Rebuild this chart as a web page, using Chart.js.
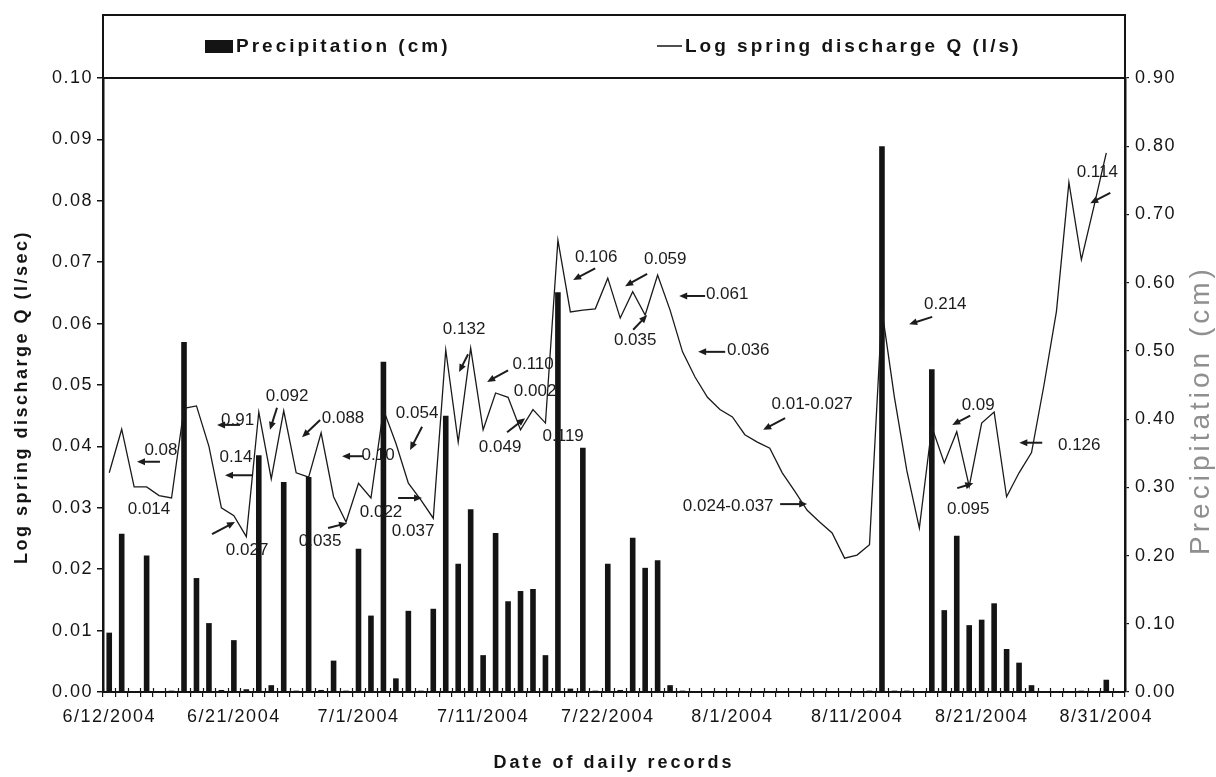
<!DOCTYPE html>
<html>
<head>
<meta charset="utf-8">
<script src="https://cdn.jsdelivr.net/npm/chart.js@4.4.1/dist/chart.umd.min.js"></script>
<style>
  body { margin: 0; background: #fff; }
  #wrap { width: 1216px; height: 777px; }
</style>
</head>
<body>
<div id="wrap"><canvas id="chart" width="1216" height="777"></canvas></div>
<script>
// daily records (one day repeated in June, 7/16 missing, as in the source sheet)
const dates = [
  "6/12/2004", "6/13/2004", "6/14/2004", "6/15/2004", "6/16/2004", "6/17/2004", "6/18/2004", "6/19/2004", "6/20/2004", "6/20/2004",
  "6/21/2004", "6/22/2004", "6/23/2004", "6/24/2004", "6/25/2004", "6/26/2004", "6/27/2004", "6/28/2004", "6/29/2004", "6/30/2004",
  "7/1/2004", "7/2/2004", "7/3/2004", "7/4/2004", "7/5/2004", "7/6/2004", "7/7/2004", "7/8/2004", "7/9/2004", "7/10/2004",
  "7/11/2004", "7/12/2004", "7/13/2004", "7/14/2004", "7/15/2004", "7/17/2004", "7/18/2004", "7/19/2004", "7/20/2004", "7/21/2004",
  "7/22/2004", "7/23/2004", "7/24/2004", "7/25/2004", "7/26/2004", "7/27/2004", "7/28/2004", "7/29/2004", "7/30/2004", "7/31/2004",
  "8/1/2004", "8/2/2004", "8/3/2004", "8/4/2004", "8/5/2004", "8/6/2004", "8/7/2004", "8/8/2004", "8/9/2004", "8/10/2004",
  "8/11/2004", "8/12/2004", "8/13/2004", "8/14/2004", "8/15/2004", "8/16/2004", "8/17/2004", "8/18/2004", "8/19/2004", "8/20/2004",
  "8/21/2004", "8/22/2004", "8/23/2004", "8/24/2004", "8/25/2004", "8/26/2004", "8/27/2004", "8/28/2004", "8/29/2004", "8/30/2004",
  "8/31/2004", "9/1/2004"
];
const shownDates = ["6/12/2004", "6/21/2004", "7/1/2004", "7/11/2004", "7/22/2004", "8/1/2004", "8/11/2004", "8/21/2004", "8/31/2004"];

// precipitation, cm (right axis)
const precipitation = [
  0.087, 0.232, 0, 0.20, 0, 0.002, 0.513, 0.167, 0.101, 0.003,
  0.076, 0.004, 0.347, 0.01, 0.308, 0.002, 0.315, 0.003, 0.046, 0.002,
  0.21, 0.112, 0.484, 0.02, 0.119, 0.002, 0.122, 0.405, 0.188, 0.268,
  0.054, 0.233, 0.133, 0.148, 0.151, 0.054, 0.586, 0.005, 0.358, 0.002,
  0.188, 0.003, 0.226, 0.182, 0.193, 0.01, 0.002, 0, 0, 0.001,
  0, 0, 0, 0.001, 0, 0, 0, 0, 0, 0,
  0.001, 0.002, 0.80, 0.002, 0.002, 0.001, 0.473, 0.12, 0.229, 0.098,
  0.106, 0.13, 0.063, 0.043, 0.01, 0.001, 0, 0, 0.002, 0.001,
  0.018, 0
];

// log spring discharge Q, l/sec (left axis)
const discharge = [
  0.0357, 0.0428, 0.0334, 0.0334, 0.0320, 0.0316, 0.0462, 0.0466, 0.0400, 0.0300,
  0.0287, 0.0253, 0.0456, 0.0347, 0.0458, 0.0357, 0.0350, 0.0422, 0.0318, 0.0277,
  0.0340, 0.0316, 0.0460, 0.0405, 0.0340, 0.0313, 0.0283, 0.0557, 0.0407, 0.0560,
  0.0427, 0.0487, 0.0480, 0.0427, 0.0460, 0.0438, 0.0736, 0.0619, 0.0622, 0.0624,
  0.0674, 0.0609, 0.0652, 0.0614, 0.0679, 0.0622, 0.0554, 0.0513, 0.0480, 0.0460,
  0.0448, 0.0419, 0.0407, 0.0397, 0.0357, 0.0327, 0.0296, 0.0277, 0.0259, 0.0218,
  0.0223, 0.0240, 0.0622, 0.0480, 0.0360, 0.0267, 0.0432, 0.0373, 0.0424, 0.0335,
  0.0438, 0.0456, 0.0318, 0.0357, 0.0390, 0.0500, 0.0620, 0.0830, 0.0704, 0.0790,
  0.0878, null
];

// callouts: text centre and arrow, in (day index, left-axis value)
const notes = [
  { text: "0.08", at: [4.15, 0.0394], from: [4.07, 0.0375], to: [2.23, 0.0375] },
  { text: "0.014", at: [3.19, 0.0298] },
  { text: "0.91", at: [10.3, 0.0443], from: [10.5, 0.0435], to: [8.65, 0.0435] },
  { text: "0.14", at: [10.17, 0.0383], from: [11.54, 0.0353], to: [9.29, 0.0353] },
  { text: "0.027", at: [11.06, 0.0230], from: [8.25, 0.0257], to: [10.09, 0.0277] },
  { text: "0.092", at: [14.27, 0.0482], from: [13.46, 0.0463], to: [12.9, 0.0427] },
  { text: "0.088", at: [18.76, 0.0446], from: [16.92, 0.0443], to: [15.47, 0.0415] },
  { text: "0.035", at: [16.92, 0.0246], from: [17.56, 0.0267], to: [19.08, 0.0275] },
  { text: "0.10", at: [21.57, 0.0386], from: [20.37, 0.0384], to: [18.68, 0.0384] },
  { text: "0.022", at: [21.81, 0.0293] },
  { text: "0.054", at: [24.7, 0.0454], from: [25.1, 0.0432], to: [24.14, 0.0394] },
  { text: "0.037", at: [24.38, 0.0261], from: [23.18, 0.0316], to: [25.1, 0.0316] },
  { text: "0.132", at: [28.47, 0.0590], from: [28.79, 0.0550], to: [28.07, 0.0521] },
  { text: "0.110", at: [34.01, 0.0534], from: [32.0, 0.0524], to: [30.32, 0.0505] },
  { text: "0.002", at: [34.17, 0.0489] },
  { text: "0.049", at: [31.36, 0.0399], from: [31.92, 0.0423], to: [33.37, 0.0446] },
  { text: "0.119", at: [36.42, 0.0417] },
  { text: "0.106", at: [39.07, 0.0708], from: [38.99, 0.0690], to: [37.22, 0.0671] },
  { text: "0.059", at: [44.61, 0.0704], from: [43.16, 0.0681], to: [41.39, 0.0661] },
  { text: "0.035", at: [42.2, 0.0572], from: [42.04, 0.0590], to: [43.16, 0.0614] },
  { text: "0.061", at: [49.58, 0.0647], from: [47.81, 0.0645], to: [45.73, 0.0645] },
  { text: "0.036", at: [51.27, 0.0557], from: [49.42, 0.0554], to: [47.25, 0.0554] },
  { text: "0.01-0.027", at: [56.4, 0.0469], from: [54.23, 0.0446], to: [52.47, 0.0427] },
  { text: "0.024-0.037", at: [49.66, 0.0303], from: [53.83, 0.0306], to: [56.0, 0.0306] },
  { text: "0.214", at: [67.08, 0.0632], from: [66.03, 0.0611], to: [64.18, 0.0599] },
  { text: "0.09", at: [69.72, 0.0467], from: [69.08, 0.0450], to: [67.64, 0.0435] },
  { text: "0.095", at: [68.92, 0.0298], from: [68.04, 0.0332], to: [69.33, 0.0340] },
  { text: "0.126", at: [77.83, 0.0401], from: [74.86, 0.0406], to: [73.02, 0.0406] },
  { text: "0.114", at: [79.28, 0.0847], from: [80.32, 0.0813], to: [78.71, 0.0796] }
];

const FONT = "'Liberation Sans', Arial, sans-serif";
const INK = "#141414";

function arrow(ctx, x1, y1, x2, y2) {
  const a = Math.atan2(y2 - y1, x2 - x1);
  const L = 8, W = 3.5;
  ctx.beginPath();
  ctx.moveTo(x1, y1);
  ctx.lineTo(x2 - 5 * Math.cos(a), y2 - 5 * Math.sin(a));
  ctx.stroke();
  ctx.beginPath();
  ctx.moveTo(x2, y2);
  ctx.lineTo(x2 - L * Math.cos(a) + W * Math.sin(a), y2 - L * Math.sin(a) - W * Math.cos(a));
  ctx.lineTo(x2 - L * Math.cos(a) - W * Math.sin(a), y2 - L * Math.sin(a) + W * Math.cos(a));
  ctx.closePath();
  ctx.fill();
}

const decorations = {
  id: "decorations",
  beforeDraw(chart) {
    chart.ctx.letterSpacing = "1.5px";
  },
  afterDraw(chart) {
    const { ctx, chartArea: area, scales } = chart;
    const xs = scales.x, ys = scales.y;
    ctx.save();

    // legend box above the plot
    ctx.strokeStyle = INK;
    ctx.lineWidth = 2;
    ctx.strokeRect(area.left, 15, area.right - area.left, area.top - 15);
    const bars = chart.data.datasets[1], line = chart.data.datasets[0];
    ctx.fillStyle = INK;
    ctx.fillRect(205, 40, 28, 13);
    ctx.beginPath();
    ctx.lineWidth = 1.5;
    ctx.moveTo(657, 46);
    ctx.lineTo(682, 46);
    ctx.stroke();
    ctx.font = "bold 19px " + FONT;
    ctx.letterSpacing = "3px";
    ctx.textBaseline = "middle";
    ctx.textAlign = "left";
    ctx.fillText(bars.label, 236, 47);
    ctx.fillText(line.label, 685, 47);

    // small tick marks crossing into the plot along the date axis
    ctx.lineWidth = 1.2;
    ctx.beginPath();
    for (let i = 0; i <= dates.length; i++) {
      const x = Math.round(xs.getPixelForValue(i - 0.5)) + 0.5;
      ctx.moveTo(x, area.bottom);
      ctx.lineTo(x, area.bottom - 4);
    }
    ctx.stroke();

    // axis titles
    ctx.textAlign = "center";
    ctx.font = "bold 18px " + FONT;
    ctx.letterSpacing = "3px";
    ctx.fillText("Date of daily records", (area.left + area.right) / 2, 763);

    ctx.save();
    ctx.translate(22, (area.top + area.bottom) / 2 + 12);
    ctx.rotate(-Math.PI / 2);
    ctx.letterSpacing = "2.5px";
    ctx.fillText("Log spring discharge Q (l/sec)", 0, 0);
    ctx.restore();

    ctx.save();
    ctx.translate(1201, 410);
    ctx.rotate(-Math.PI / 2);
    ctx.fillStyle = "#8f8f8f";
    ctx.font = "28px " + FONT;
    ctx.letterSpacing = "4px";
    ctx.fillText("Precipitation (cm)", 0, 0);
    ctx.restore();

    // callouts
    ctx.font = "17px " + FONT;
    ctx.letterSpacing = "0px";
    ctx.fillStyle = "#1c1c1c";
    ctx.strokeStyle = "#1c1c1c";
    ctx.lineWidth = 2;
    notes.forEach(n => {
      ctx.fillText(n.text, xs.getPixelForValue(n.at[0]), ys.getPixelForValue(n.at[1]));
      if (n.from) {
        arrow(ctx,
          xs.getPixelForValue(n.from[0]), ys.getPixelForValue(n.from[1]),
          xs.getPixelForValue(n.to[0]), ys.getPixelForValue(n.to[1]));
      }
    });
    ctx.restore();
  }
};

const tickFont = { family: FONT, size: 18 };

new Chart(document.getElementById("chart"), {
  type: "bar",
  data: {
    labels: dates,
    datasets: [
      {
        type: "line",
        label: "Log spring discharge Q (l/s)",
        data: discharge,
        yAxisID: "y",
        borderColor: "#1a1a1a",
        borderWidth: 1.3,
        pointRadius: 0,
        tension: 0,
        order: 0
      },
      {
        type: "bar",
        label: "Precipitation (cm)",
        data: precipitation,
        yAxisID: "y1",
        backgroundColor: INK,
        barPercentage: 0.45,
        categoryPercentage: 1,
        order: 1
      }
    ]
  },
  options: {
    responsive: false,
    animation: false,
    layout: { padding: { top: 78, left: 0, right: 0, bottom: 0 } },
    plugins: { legend: { display: false }, tooltip: { enabled: false } },
    scales: {
      x: {
        offset: true,
        grid: { offset: true, drawOnChartArea: false, tickLength: 5, color: INK, lineWidth: 1.2 },
        border: { color: INK, width: 2 },
        ticks: {
          autoSkip: false, maxRotation: 0, minRotation: 0, padding: 9,
          color: INK, font: tickFont,
          callback: (v, i) => shownDates.includes(dates[i]) ? dates[i] : ""
        },
        afterFit: s => { s.height = 85; }
      },
      y: {
        position: "left",
        min: 0, max: 0.1,
        grid: { drawOnChartArea: false, tickLength: 6, color: INK, lineWidth: 1.5 },
        border: { color: INK, width: 2.5 },
        ticks: { stepSize: 0.01, padding: 4, color: INK, font: tickFont, callback: v => v.toFixed(2) },
        afterFit: s => { s.width = 103; }
      },
      y1: {
        position: "right",
        min: 0, max: 0.9,
        grid: { drawOnChartArea: false, tickLength: 4, color: INK, lineWidth: 1.2 },
        border: { color: INK, width: 2.5 },
        ticks: { stepSize: 0.1, padding: 6, color: INK, font: tickFont, callback: v => v.toFixed(2) },
        afterFit: s => { s.width = 91; }
      }
    }
  },
  plugins: [decorations]
});
</script>
</body>
</html>
